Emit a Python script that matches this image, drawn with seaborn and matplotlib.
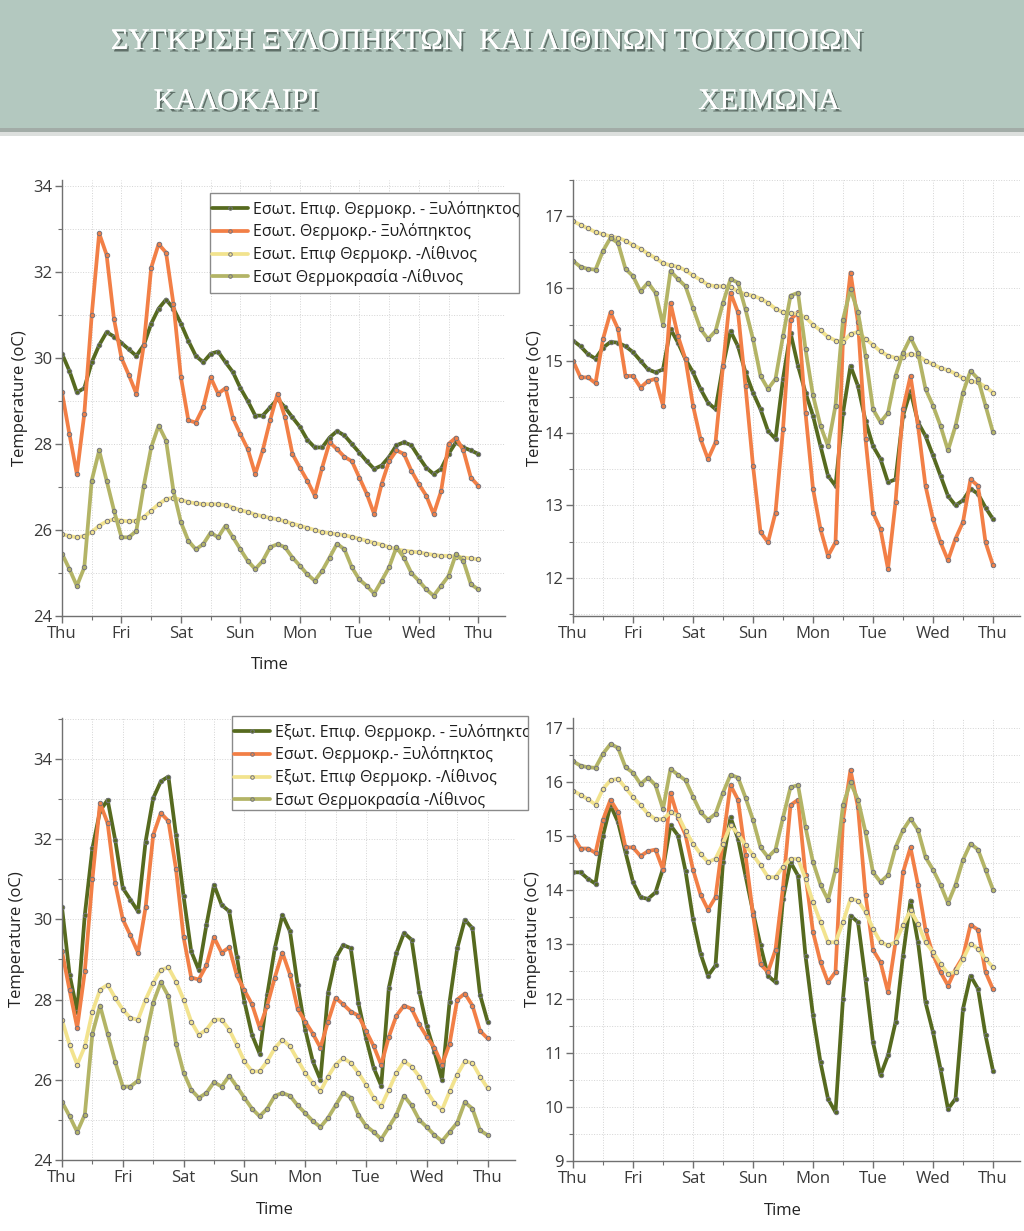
import matplotlib
matplotlib.use("Agg")
import matplotlib.pyplot as plt
import matplotlib.patheffects as pe
from matplotlib.patches import Rectangle
from matplotlib.ticker import MultipleLocator
from matplotlib.transforms import Bbox, TransformedBbox
import numpy as np
import pandas as pd
import seaborn as sns

# sample times: every 3 hours over one week (Thu -> Thu), in days
hours = np.arange(57) * 3
day_names = ["Thu", "Fri", "Sat", "Sun", "Mon", "Tue", "Wed", "Thu"]

# --- summer (ΚΑΛΟΚΑΙΡΙ) ---
summer_wood_in_surf = [30.1, 29.7, 29.2, 29.3, 29.9, 30.3, 30.6, 30.5, 30.35, 30.2,
                       30.05, 30.3, 30.8, 31.15, 31.36, 31.15, 30.8, 30.4, 30.05, 29.9,
                       30.1, 30.15, 29.9, 29.67, 29.3, 29.0, 28.66, 28.66, 28.85, 29.05,
                       28.85, 28.62, 28.4, 28.1, 27.92, 27.92, 28.15, 28.3, 28.2, 28.0,
                       27.8, 27.6, 27.42, 27.5, 27.7, 27.97, 28.04, 27.97, 27.7, 27.45,
                       27.3, 27.42, 27.77, 28.04, 27.92, 27.85, 27.77]
summer_wood_air = [29.2, 28.23, 27.3, 28.7, 31.0, 32.9, 32.4, 30.9, 30.0, 29.6,
                   29.17, 30.3, 32.1, 32.65, 32.45, 31.25, 29.55, 28.55, 28.5, 28.85,
                   29.55, 29.17, 29.3, 28.6, 28.23, 27.88, 27.3, 27.85, 28.55, 29.17,
                   28.62, 27.77, 27.45, 27.15, 26.8, 27.45, 28.04, 27.88, 27.7, 27.6,
                   27.22, 26.84, 26.37, 27.07, 27.6, 27.85, 27.77, 27.38, 27.07, 26.8,
                   26.37, 26.9, 28.0, 28.15, 27.85, 27.22, 27.03]
summer_stone_in_surf = [25.9, 25.86, 25.83, 25.86, 25.95, 26.1, 26.2, 26.25, 26.22, 26.2,
                        26.22, 26.3, 26.45, 26.6, 26.72, 26.75, 26.7, 26.65, 26.62, 26.6,
                        26.6, 26.6, 26.58, 26.52, 26.46, 26.42, 26.36, 26.32, 26.28, 26.25,
                        26.2, 26.15, 26.1, 26.05, 26.0, 25.95, 25.93, 25.9, 25.88, 25.84,
                        25.8, 25.75, 25.7, 25.66, 25.6, 25.55, 25.52, 25.5, 25.48, 25.45,
                        25.42, 25.4, 25.4, 25.38, 25.36, 25.34, 25.32]
summer_stone_air = [25.45, 25.09, 24.7, 25.13, 27.15, 27.85, 27.15, 26.45, 25.83, 25.83,
                    25.98, 27.03, 27.92, 28.43, 28.08, 26.9, 26.18, 25.75, 25.55, 25.67,
                    25.94, 25.83, 26.1, 25.83, 25.55, 25.28, 25.09, 25.28, 25.6, 25.67,
                    25.6, 25.36, 25.17, 24.97, 24.82, 25.05, 25.36, 25.68, 25.55, 25.13,
                    24.85, 24.7, 24.52, 24.82, 25.13, 25.6, 25.36, 25.0, 24.82, 24.62,
                    24.47, 24.7, 24.93, 25.44, 25.28, 24.74, 24.62]
summer_wood_out_surf = [30.3, 28.62, 27.7, 30.11, 31.77, 32.7, 32.98, 31.98, 30.78, 30.49,
                        30.2, 31.94, 33.02, 33.44, 33.56, 32.1, 30.57, 29.2, 28.74, 29.86,
                        30.86, 30.36, 30.2, 29.07, 27.95, 27.12, 26.65, 28.12, 29.28, 30.11,
                        29.7, 28.37, 27.25, 26.46, 26.0, 28.16, 29.03, 29.36, 29.28, 27.91,
                        27.04, 26.3, 25.85, 28.29, 29.16, 29.66, 29.49, 28.2, 27.33, 26.7,
                        26.0, 27.95, 29.28, 29.99, 29.78, 28.12, 27.45]
summer_stone_out_surf = [27.5, 26.87, 26.38, 26.83, 27.7, 28.24, 28.37, 28.04, 27.75, 27.54,
                         27.5, 28.0, 28.41, 28.74, 28.8, 28.45, 28.0, 27.45, 27.12, 27.25,
                         27.5, 27.5, 27.25, 26.87, 26.46, 26.21, 26.21, 26.46, 26.79, 27.0,
                         26.83, 26.5, 26.17, 25.92, 25.71, 26.08, 26.38, 26.54, 26.42, 26.17,
                         25.88, 25.55, 25.34, 25.75, 26.17, 26.46, 26.33, 26.08, 25.71, 25.42,
                         25.25, 25.71, 26.13, 26.46, 26.42, 26.08, 25.79]

# --- winter (ΧΕΙΜΩΝΑ) ---
winter_wood_in_surf = [15.28, 15.2, 15.09, 15.03, 15.18, 15.26, 15.25, 15.2, 15.12, 15.0,
                       14.88, 14.84, 14.88, 15.44, 15.25, 15.02, 14.84, 14.61, 14.42, 14.33,
                       14.93, 15.41, 15.2, 14.84, 14.56, 14.33, 14.03, 13.92, 14.75, 15.39,
                       14.93, 14.56, 14.24, 13.82, 13.41, 13.27, 14.28, 14.93, 14.65, 14.17,
                       13.82, 13.64, 13.32, 13.36, 14.24, 14.58, 14.15, 13.96, 13.69, 13.41,
                       13.13, 13.0, 13.07, 13.23, 13.16, 12.97, 12.81]
winter_wood_air = [15.0, 14.77, 14.77, 14.69, 15.3, 15.67, 15.44, 14.79, 14.79, 14.63,
                   14.72, 14.75, 14.38, 15.8, 15.34, 15.02, 14.38, 13.92, 13.64, 13.87,
                   14.93, 15.94, 15.67, 14.65, 13.55, 12.63, 12.49, 12.9, 14.05, 15.57,
                   15.67, 14.28, 13.23, 12.67, 12.3, 12.49, 15.3, 16.22, 15.53, 13.92,
                   12.9, 12.67, 12.12, 13.04, 14.33, 14.79, 14.1, 13.27, 12.81, 12.49,
                   12.24, 12.54, 12.77, 13.36, 13.27, 12.49, 12.17]
winter_stone_in_surf = [16.93, 16.88, 16.83, 16.78, 16.75, 16.72, 16.7, 16.66, 16.6, 16.55,
                        16.48, 16.42, 16.35, 16.32, 16.3, 16.25, 16.18, 16.12, 16.05, 16.03,
                        16.03, 16.02, 15.96, 15.92, 15.9, 15.86, 15.8, 15.72, 15.67, 15.66,
                        15.65, 15.6, 15.5, 15.42, 15.33, 15.28, 15.26, 15.37, 15.4, 15.3,
                        15.22, 15.13, 15.07, 15.04, 15.05, 15.1, 15.07, 15.0, 14.95, 14.9,
                        14.87, 14.82, 14.76, 14.72, 14.7, 14.64, 14.56]
winter_stone_air = [16.38, 16.3, 16.27, 16.26, 16.52, 16.7, 16.63, 16.27, 16.17, 15.96,
                    16.08, 15.94, 15.5, 16.24, 16.13, 16.03, 15.73, 15.44, 15.3, 15.41,
                    15.8, 16.13, 16.08, 15.71, 15.3, 14.79, 14.61, 14.75, 15.34, 15.9,
                    15.94, 15.16, 14.52, 14.1, 13.82, 14.38, 15.57, 15.99, 15.67, 15.07,
                    14.33, 14.15, 14.28, 14.79, 15.11, 15.32, 15.11, 14.61, 14.38, 14.1,
                    13.76, 14.1, 14.56, 14.86, 14.75, 14.38, 14.01]
winter_wood_out_surf = [14.33, 14.33, 14.21, 14.12, 15.01, 15.57, 15.26, 14.7, 14.15, 13.87,
                        13.84, 13.96, 14.4, 15.2, 15.01, 14.36, 13.47, 12.83, 12.42, 12.61,
                        14.52, 15.35, 14.95, 14.27, 13.6, 12.98, 12.42, 12.3, 13.84, 14.52,
                        14.27, 12.79, 11.69, 10.82, 10.15, 9.9, 12.0, 13.53, 13.41, 12.36,
                        11.19, 10.58, 10.95, 11.56, 12.79, 13.81, 13.04, 11.93, 11.38, 10.7,
                        9.96, 10.15, 11.81, 12.42, 12.18, 11.32, 10.67]
winter_stone_out_surf = [15.84, 15.76, 15.68, 15.58, 15.87, 16.03, 16.06, 15.89, 15.72, 15.57,
                         15.41, 15.31, 15.31, 15.44, 15.38, 15.1, 14.86, 14.67, 14.52, 14.58,
                         14.86, 15.2, 15.04, 14.83, 14.65, 14.46, 14.24, 14.24, 14.43, 14.58,
                         14.58, 14.21, 13.78, 13.41, 13.04, 13.04, 13.41, 13.84, 13.81, 13.6,
                         13.29, 13.04, 12.98, 13.04, 13.35, 13.63, 13.38, 13.04, 12.86, 12.64,
                         12.46, 12.49, 12.73, 13.01, 12.92, 12.73, 12.58]

labels_inner = ["Εσωτ. Επιφ. Θερμοκρ. - Ξυλόπηκτος", "Εσωτ. Θερμοκρ.- Ξυλόπηκτος",
                "Εσωτ. Επιφ Θερμοκρ. -Λίθινος", "Εσωτ Θερμοκρασία -Λίθινος"]
labels_outer = ["Εξωτ. Επιφ. Θερμοκρ. - Ξυλόπηκτος", "Εσωτ. Θερμοκρ.- Ξυλόπηκτος",
                "Εξωτ. Επιφ Θερμοκρ. -Λίθινος", "Εσωτ Θερμοκρασία -Λίθινος"]
colors = ["#566a1f", "#f27f46", "#f2e38e", "#b3b466"]

W, H = 1024, 1231


def px_rect(left, top, right, bottom):
    return [left / W, 1 - bottom / H, (right - left) / W, (bottom - top) / H]


def long_frame(series, labels):
    frames = []
    for vals, lab in zip(series, labels):
        frames.append(pd.DataFrame({"day": hours / 24, "temp": vals, "series": lab}))
    return pd.concat(frames, ignore_index=True)


sns.set_theme(style="white")
plt.rcParams["font.family"] = ["Open Sans", "DejaVu Sans"]

fig = plt.figure(figsize=(W / 100, H / 100), dpi=100)

# header band with a soft shadow underneath
fig.add_artist(Rectangle((0, 1 - 128 / H), 1, 128 / H, transform=fig.transFigure,
                         facecolor="#b3c8bf", edgecolor="none", zorder=0))
fig.add_artist(Rectangle((0, 1 - 132 / H), 1, 4 / H, transform=fig.transFigure,
                         facecolor="#a2aca7", edgecolor="none", zorder=0))
fig.add_artist(Rectangle((0, 1 - 136 / H), 1, 4 / H, transform=fig.transFigure,
                         facecolor="#dcdfdd", edgecolor="none", zorder=0))
shadow = [pe.withSimplePatchShadow(offset=(1.5, -1.8), shadow_rgbFace="#3c4a44", alpha=0.7),
          pe.Normal()]
header_kw = dict(family="Liberation Serif", color="white", ha="center", va="center",
                 path_effects=shadow)
fig.text(487 / W, 1 - 42 / H, "ΣΥΓΚΡΙΣΗ ΞΥΛΟΠΗΚΤΩΝ  ΚΑΙ ΛΙΘΙΝΩΝ ΤΟΙΧΟΠΟΙΩΝ",
         fontsize=21.5, **header_kw)
fig.text(236 / W, 1 - 102 / H, "ΚΑΛΟΚΑΙΡΙ", fontsize=21.5, **header_kw)
fig.text(769 / W, 1 - 102 / H, "ΧΕΙΜΩΝΑ", fontsize=21.5, **header_kw)

panels = [
    dict(rect=(62, 180, 505, 616), ylim=(24, 34.14), major=2, minor=1,
         series=[summer_wood_in_surf, summer_wood_air, summer_stone_in_surf, summer_stone_air],
         labels=labels_inner, xlabel=True, ylab_x=-0.077,
         legend=(210, 193, 519, 293)),
    dict(rect=(573, 180, 1020, 616), ylim=(11.47, 17.5), major=1, minor=0.5,
         series=[winter_wood_in_surf, winter_wood_air, winter_stone_in_surf, winter_stone_air],
         labels=labels_inner, xlabel=False, ylab_x=-0.067, legend=None),
    dict(rect=(62, 718, 515, 1160), ylim=(24, 35.02), major=2, minor=1,
         series=[summer_wood_out_surf, summer_wood_air, summer_stone_out_surf, summer_stone_air],
         labels=labels_outer, xlabel=True, ylab_x=-0.082,
         legend=(232, 716, 528, 810)),
    dict(rect=(573, 718, 1020, 1161), ylim=(9, 17.18), major=1, minor=0.5,
         series=[winter_wood_out_surf, winter_wood_air, winter_stone_out_surf, winter_stone_air],
         labels=labels_outer, xlabel=True, ylab_x=-0.072, legend=None),
]

for p in panels:
    ax = fig.add_axes(px_rect(*p["rect"]))
    df = long_frame(p["series"], p["labels"])
    sns.lineplot(data=df, x="day", y="temp", hue="series", hue_order=p["labels"],
                 palette=colors, estimator=None, sort=False, linewidth=2.7,
                 marker="o", markersize=3.2, markeredgecolor="#74747e",
                 markeredgewidth=0.7, legend=False, ax=ax)

    ax.set_xlim(0, 7.45)
    ax.set_ylim(*p["ylim"])
    ax.set_xticks(range(8))
    ax.set_xticklabels(day_names)
    ax.xaxis.set_minor_locator(MultipleLocator(0.5))
    ax.yaxis.set_major_locator(MultipleLocator(p["major"]))
    ax.yaxis.set_minor_locator(MultipleLocator(p["minor"]))
    ax.grid(which="both", color="#d4d4d4", linestyle=":", linewidth=0.7)
    ax.set_axisbelow(True)
    for side in ("top", "right"):
        ax.spines[side].set_visible(False)
    for side in ("left", "bottom"):
        ax.spines[side].set_color("#707070")
        ax.spines[side].set_linewidth(1.0)
    ax.tick_params(which="major", direction="out", length=5, width=1, color="#707070",
                   labelsize=12, labelcolor="#3a3a3a", pad=2,
                   bottom=True, left=True)
    ax.tick_params(which="minor", direction="out", length=3, width=0.8, color="#707070",
                   bottom=True, left=True)

    ax.set_ylabel("Temperature (oC)", fontsize=12, color="#222222")
    ax.yaxis.set_label_coords(p["ylab_x"], 0.5)
    if p["xlabel"]:
        ax.set_xlabel("Time", fontsize=12, color="#222222")
        ax.xaxis.set_label_coords(0.47, -0.094)
    else:
        ax.set_xlabel("")

    if p["legend"] is not None:
        l, t, r, b = p["legend"]
        fig.add_artist(Rectangle((l / W, 1 - b / H), (r - l) / W, (b - t) / H,
                                 transform=fig.transFigure, facecolor="white",
                                 edgecolor="#8a8a8a", linewidth=1, zorder=2))
        leg = fig.legend(handles=ax.get_lines()[:4], labels=p["labels"],
                         loc="upper left", bbox_to_anchor=(l / W, 1 - (t + 6) / H),
                         bbox_transform=fig.transFigure, frameon=False, fontsize=11.5,
                         handlelength=2.3, handletextpad=0.3, labelspacing=0.36,
                         borderpad=0.1, borderaxespad=0, markerscale=0.8)
        leg.set_zorder(3)
        # the original legend box is narrower than its longest label
        clip = TransformedBbox(Bbox([[l / W, 1 - b / H], [r / W, 1 - t / H]]),
                               fig.transFigure)
        for txt in leg.get_texts():
            txt.set_color("#1e1e1e")
            txt.set_clip_on(True)
            txt.set_clip_box(clip)

fig.savefig("out.png", dpi=100)
